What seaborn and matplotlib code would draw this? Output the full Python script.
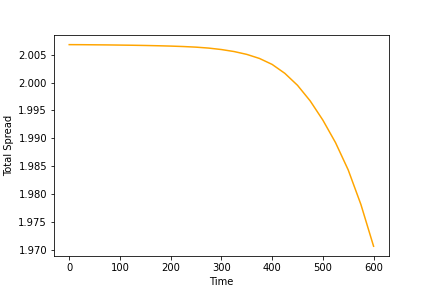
import matplotlib
matplotlib.use("Agg")
import matplotlib.pyplot as plt
import seaborn as sns
import pandas as pd

time = [0, 25, 50, 75, 100, 125, 150, 175, 200, 225, 250, 275, 300,
        325, 350, 375, 400, 425, 450, 475, 500, 525, 550, 575, 600]
total_spread = [2.00680, 2.00679, 2.00677, 2.00675, 2.00672, 2.00669, 2.00665,
                2.00660, 2.00654, 2.00646, 2.00635, 2.00618, 2.00592, 2.00556,
                2.00505, 2.00432, 2.00325, 2.00165, 1.99950, 1.99670, 1.99325,
                1.98920, 1.98430, 1.97810, 1.97060]

df = pd.DataFrame({"Time": time, "Total Spread": total_spread})

fig, ax = plt.subplots(figsize=(6, 4), dpi=72)
sns.lineplot(data=df, x="Time", y="Total Spread", color="orange", ax=ax)
ax.set_xlabel("Time")
ax.set_ylabel("Total Spread")
fig.savefig("out.png", dpi=72)
